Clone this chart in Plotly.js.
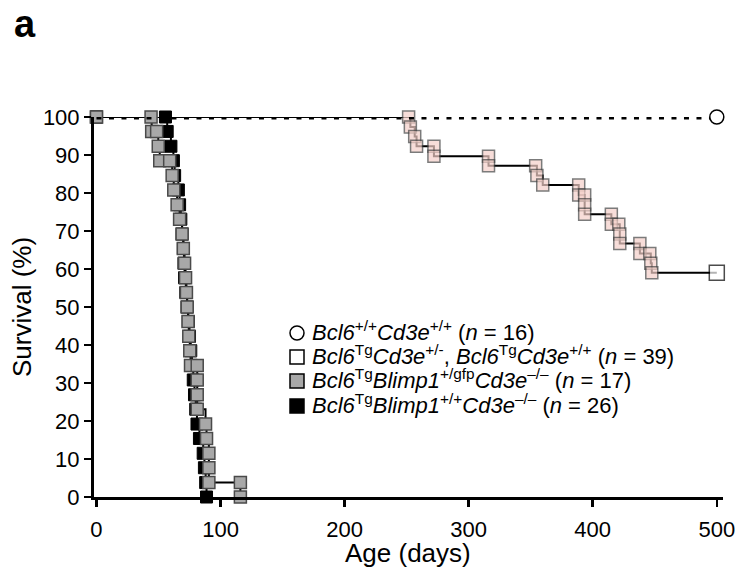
<!DOCTYPE html>
<html>
<head>
<meta charset="utf-8">
<script src="https://cdn.plot.ly/plotly-3.0.1.min.js"></script>
<style>html,body{margin:0;padding:0;background:#fff;}#chart{width:739px;height:578px;}</style>
</head>
<body>
<div id="chart"></div>
<script>
// Bcl6+/+Cd3e+/+ (n = 16): no deaths
const wtDays = [0, 500];
const wtSurv = [100, 100];

// Bcl6Tg Cd3e+/-, Bcl6Tg Cd3e+/+ (n = 39)
const tgDays = [0, 251.6, 253, 256.5, 258, 272, 272, 316, 316, 354, 355, 359.7, 388.7, 388.7, 393.5, 393.5, 393.5, 415, 415, 421, 421.8, 421.8, 438, 438, 446, 446.8, 447.6, 500];
const tgSurv = [100, 100, 97.4, 94.9, 92.3, 92.3, 89.7, 89.7, 87.2, 87.2, 84.6, 82.1, 82.1, 79.5, 79.5, 76.9, 74.4, 74.4, 71.8, 71.8, 69.2, 66.7, 66.7, 64.1, 64.1, 61.5, 59.0, 59.0];

// Bcl6Tg Blimp1+/gfp Cd3e-/- (n = 17)
const gfpDays = [0, 44, 44.5, 48.5, 49.8, 51, 59, 61, 62.3, 65, 67, 69, 70, 71, 71.8, 72.5, 73.1, 73.8, 74.4, 75.2, 75.8, 81.2, 81.2, 81.2, 81.2, 87.9, 88.7, 90.6, 90.6, 90.6, 116, 116];
const gfpSurv = [100, 100, 96.2, 96.2, 92.3, 88.5, 88.5, 84.6, 80.8, 76.9, 73.1, 69.2, 65.4, 61.5, 57.7, 53.8, 50.0, 46.2, 42.3, 38.5, 34.6, 34.6, 30.8, 26.9, 23.1, 19.2, 15.4, 11.5, 7.7, 3.8, 3.8, 0];

// Bcl6Tg Blimp1+/+ Cd3e-/- (n = 26)
const blkDays = [0, 55.6, 57, 60, 62, 63, 66, 67, 68, 69, 70, 70.5, 71, 72, 73, 74, 75, 76, 77, 78, 79, 80, 81, 83, 86, 87, 88, 88.7];
const blkSurv = [100, 100, 96.2, 92.3, 88.5, 84.6, 80.8, 76.9, 73.1, 69.2, 65.4, 61.5, 57.7, 53.8, 50.0, 46.2, 42.3, 38.5, 34.6, 30.8, 26.9, 23.1, 19.2, 15.4, 11.5, 7.7, 3.8, 0];

const xTicks = [0, 100, 200, 300, 400, 500];
const yTicks = [0, 10, 20, 30, 40, 50, 60, 70, 80, 90, 100];

const legendNames = [
  '<i>Bcl6</i><sup>+/+</sup><i>Cd3e</i><sup>+/+</sup> (<i>n</i> = 16)',
  '<i>Bcl6</i><sup>Tg</sup><i>Cd3e</i><sup>+/-</sup>, <i>Bcl6</i><sup>Tg</sup><i>Cd3e</i><sup>+/+</sup> (<i>n</i> = 39)',
  '<i>Bcl6</i><sup>Tg</sup><i>Blimp1</i><sup>+/gfp</sup><i>Cd3e</i><sup>–/–</sup> (<i>n</i> = 17)',
  '<i>Bcl6</i><sup>Tg</sup><i>Blimp1</i><sup>+/+</sup><i>Cd3e</i><sup>–/–</sup> (<i>n</i> = 26)'
];
const legendFill = ['#ffffff', '#ffffff', '#a8a8a8', '#000000'];
const legendShape = ['circle', 'rect', 'rect', 'rect'];

const pinkColors = tgDays.map((d, i) => i === tgDays.length - 1 ? '#ffffff' : '#f4d0c9');
const pinkEdges = tgDays.map((d, i) => i === tgDays.length - 1 ? '#000000' : '#444444');
const pinkSizes = tgDays.map((d, i) => i === tgDays.length - 1 ? 15 : 12);

const traces = [
  {x: tgDays, y: tgSurv, mode: 'lines+markers', showlegend: false, cliponaxis: false,
   line: {shape: 'hv', color: '#000', width: 2},
   marker: {symbol: 'square', size: pinkSizes, color: pinkColors, line: {color: pinkEdges, width: 1.5}}},
  {x: blkDays, y: blkSurv, mode: 'lines+markers', showlegend: false, cliponaxis: false,
   line: {shape: 'hv', color: '#000', width: 2},
   marker: {symbol: 'square', size: 12, color: '#000', line: {color: '#000', width: 1}}},
  {x: gfpDays, y: gfpSurv, mode: 'lines+markers', showlegend: false, cliponaxis: false,
   line: {shape: 'hv', color: '#000', width: 2},
   marker: {symbol: 'square', size: 12, color: '#a8a8a8', line: {color: '#4a4a4a', width: 1.5}}},
  {x: wtDays, y: wtSurv, mode: 'lines', showlegend: false, cliponaxis: false,
   line: {color: '#000', width: 5, dash: '5px,7.5px'}},
  {x: wtDays.slice(-1), y: wtSurv.slice(-1), mode: 'markers', showlegend: false, cliponaxis: false,
   marker: {symbol: 'circle', size: 14, color: '#fff', line: {color: '#000', width: 1.5}}}
];

// plot area in pixels: left 94, right 723, top 117, bottom 497
const L = 94, R = 723, T = 117, B = 497;
const px = v => (v - L) / (R - L);
const py = v => (B - v) / (B - T);

const FONT = 'Liberation Sans, Arial, sans-serif';
const legendRows = [333, 357, 381, 406];
const annotations = [
  {text: '<b>a</b>', xref: 'paper', yref: 'paper', x: px(25), y: py(24), xanchor: 'center', yanchor: 'middle',
   showarrow: false, font: {size: 38, family: FONT}},
  {text: 'Survival (%)', xref: 'paper', yref: 'paper', x: px(22), y: 0.5, xanchor: 'center', yanchor: 'middle',
   textangle: -90, showarrow: false, font: {size: 26, family: FONT}},
  {text: 'Age (days)', xref: 'paper', yref: 'paper', x: px(408), y: py(553), xanchor: 'center', yanchor: 'middle',
   showarrow: false, font: {size: 26, family: FONT}}
];
const shapes = [];
legendNames.forEach((name, i) => {
  annotations.push({text: name, xref: 'paper', yref: 'paper', x: px(310), y: py(legendRows[i] - 2),
    xanchor: 'left', yanchor: 'middle', showarrow: false, font: {size: 22, family: FONT}});
  shapes.push({type: legendShape[i], xref: 'paper', yref: 'paper', xsizemode: 'pixel', ysizemode: 'pixel',
    xanchor: px(297), yanchor: py(legendRows[i]), x0: -7, x1: 7, y0: -7, y1: 7,
    fillcolor: legendFill[i], line: {color: '#000', width: 1.5}});
});

const layout = {
  width: 739, height: 578,
  margin: {l: L, r: 739 - R, t: T, b: 578 - B},
  paper_bgcolor: '#fff', plot_bgcolor: '#fff',
  font: {family: FONT, color: '#000', size: 22},
  showlegend: false,
  xaxis: {range: [-2, 505], tickvals: xTicks, ticks: 'outside', ticklen: 7, tickwidth: 2.5,
          tickcolor: '#000', showline: true, linewidth: 3, linecolor: '#000', showgrid: false, zeroline: false,
          tickfont: {size: 22}, ticklabelstandoff: 4, fixedrange: true},
  yaxis: {range: [0, 100], tickvals: yTicks, ticks: 'outside', ticklen: 7, tickwidth: 2.5, tickcolor: '#000',
          showline: true, linewidth: 3, linecolor: '#000', showgrid: false, zeroline: false,
          tickfont: {size: 22}, fixedrange: true},
  annotations: annotations,
  shapes: shapes
};

Plotly.newPlot('chart', traces, layout, {staticPlot: true, displayModeBar: false});
</script>
</body>
</html>
